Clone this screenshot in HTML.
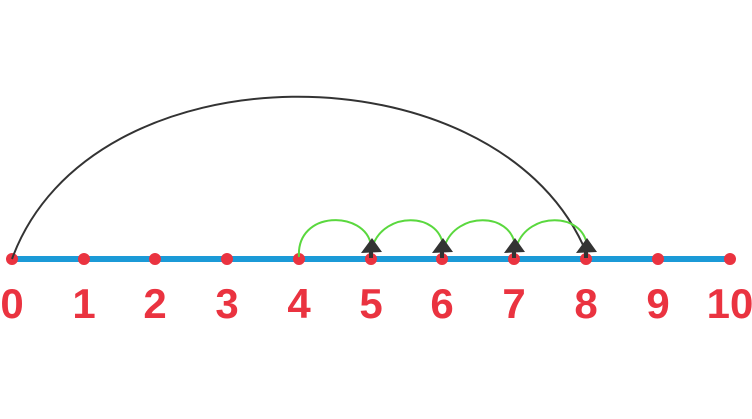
<!DOCTYPE html>
<html><head><style>html,body{margin:0;padding:0;background:#fff}</style></head>
<body>
<svg width="752" height="414" xmlns="http://www.w3.org/2000/svg">
<line x1="12" y1="259" x2="730" y2="259" stroke="#1b9ad7" stroke-width="6"/>
<g fill="#ea3340">
<circle cx="12" cy="259" r="6"/><circle cx="84" cy="259" r="6"/><circle cx="155" cy="259" r="6"/><circle cx="227" cy="259" r="6"/><circle cx="299" cy="259" r="6"/><circle cx="371" cy="259" r="6"/><circle cx="442" cy="259" r="6"/><circle cx="514" cy="259" r="6"/><circle cx="586" cy="259" r="6"/><circle cx="658" cy="259" r="6"/><circle cx="730" cy="259" r="6"/>
</g>
<path d="M12 259 C 90 45, 490 45, 583 245" fill="none" stroke="#333" stroke-width="2"/>
<g fill="none" stroke="#5ad83e" stroke-width="2">
<path d="M299 257 C 296 210, 365 210, 371 245"/>
<path d="M373 245 C 385 212, 438 212, 443 245"/>
<path d="M445 245 C 457 212, 510 212, 515 245"/>
<path d="M517 245 C 529 212, 582 212, 587 245"/>
</g>
<g fill="#333">
<polygon points="372,238 361,253 382,252"/><rect x="369" y="250" width="4" height="8"/>
<polygon points="443,238 432,253 453,252"/><rect x="440" y="250" width="4" height="8"/>
<polygon points="515,238 504,253 525,252"/><rect x="512" y="250" width="4" height="8"/>
<polygon points="587,238 576,253 597,252"/><rect x="584" y="250" width="4" height="8"/>
</g>
<g fill="#ea3340" font-family="Liberation Sans, sans-serif" font-weight="bold" font-size="42" text-anchor="middle">
<text x="12" y="318">0</text><text x="84" y="318">1</text><text x="155" y="318">2</text><text x="227" y="318">3</text><text x="299" y="318">4</text><text x="371" y="318">5</text><text x="442" y="318">6</text><text x="514" y="318">7</text><text x="586" y="318">8</text><text x="658" y="318">9</text><text x="730" y="318">10</text>
</g>
</svg>
</body></html>
